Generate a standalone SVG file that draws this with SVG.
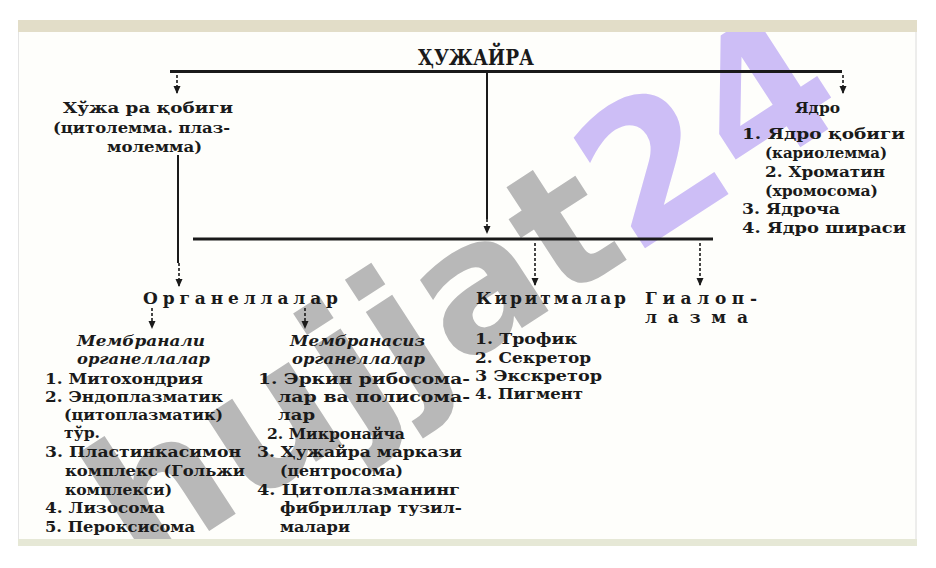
<svg xmlns="http://www.w3.org/2000/svg" width="936" height="568" viewBox="0 0 936 568">
<style>
.t{font-family:"DejaVu Serif","Liberation Serif",serif;font-weight:bold;font-size:15px;fill:#1a1a1a}
.i{font-style:italic}
.h{font-size:17px}
.ln{stroke:#1a1a1a;fill:none}
.ar{stroke:#1a1a1a;stroke-width:1.6;stroke-dasharray:3 2;fill:none}
.wm{font-family:"DejaVu Sans","Liberation Sans",sans-serif;font-weight:bold;font-size:180px}
</style>
<defs>
<marker id="ah" viewBox="0 0 8 8" refX="7" refY="4" markerWidth="8" markerHeight="8" markerUnits="userSpaceOnUse" orient="auto">
<path d="M0,0.5 L8,4 L0,7.5 z" fill="#1a1a1a"/>
</marker>
</defs>
<rect width="936" height="568" fill="#ffffff"/>
<g id="page">
<rect x="18" y="20" width="899" height="526" fill="#fefefb"/>
<line x1="18.5" y1="32" x2="18.5" y2="540" stroke="#e4e4e4"/>
<line x1="916" y1="32" x2="916" y2="540" stroke="#dcdcdc"/>
</g>
<g id="watermark">
<text class="wm" transform="translate(140,576) rotate(-33)"><tspan fill="#b8b8b8">hujjat</tspan><tspan fill="#cdbef6" style="font-size:188px">24</tspan></text>
</g>
<g id="bands">
<rect x="18" y="20" width="899" height="12" fill="#e2ddc8"/>
<rect x="18" y="539" width="899" height="7" fill="#e6e8d6"/>
<rect x="0" y="0" width="936" height="20" fill="#ffffff"/>
<rect x="0" y="546" width="936" height="22" fill="#ffffff"/>
<rect x="917" y="0" width="19" height="568" fill="#ffffff"/>
</g>
<g id="connectors">
<path class="ln" stroke-width="3" d="M170 71.5 H842"/>
<path class="ln" stroke-width="2" d="M487 71 V219"/>
<path class="ar" d="M487 219 V233" marker-end="url(#ah)"/>
<path class="ar" d="M177 75 V93" marker-end="url(#ah)"/>
<path class="ar" d="M843 75 V93" marker-end="url(#ah)"/>
<path class="ln" stroke-width="2" d="M178 155 V263"/>
<path class="ar" d="M179 263 V286" marker-end="url(#ah)"/>
<path class="ln" stroke-width="3" d="M193 239 H713"/>
<path class="ar" d="M535 243 V285" marker-end="url(#ah)"/>
<path class="ar" d="M700 243 V285" marker-end="url(#ah)"/>
<path class="ar" d="M152 308 V328" marker-end="url(#ah)"/>
<path class="ar" d="M305 308 V328" marker-end="url(#ah)"/>
</g>
<g id="n-hujayra">
<text class="t" x="418" y="65" textLength="116" lengthAdjust="spacingAndGlyphs" style="font-size:22px">ҲУЖАЙРА</text>
</g>
<g id="n-qobiq">
<text class="t" x="63" y="113" textLength="170" lengthAdjust="spacingAndGlyphs">Хўжа  ра қобиги</text>
<text class="t" x="53" y="133" textLength="177" lengthAdjust="spacingAndGlyphs">(цитолемма. плаз-</text>
<text class="t" x="107" y="152" textLength="95" lengthAdjust="spacingAndGlyphs">молемма)</text>
</g>
<g id="n-yadro">
<text class="t" x="795" y="113" textLength="45" lengthAdjust="spacingAndGlyphs">Ядро</text>
<text class="t" x="742" y="139" textLength="163" lengthAdjust="spacingAndGlyphs">1. Ядро  қобиги</text>
<text class="t" x="765" y="158" textLength="122" lengthAdjust="spacingAndGlyphs">(кариолемма)</text>
<text class="t" x="765" y="177" textLength="120" lengthAdjust="spacingAndGlyphs">2. Хроматин</text>
<text class="t" x="765" y="196" textLength="113" lengthAdjust="spacingAndGlyphs">(хромосома)</text>
<text class="t" x="742" y="214" textLength="98" lengthAdjust="spacingAndGlyphs">3. Ядроча</text>
<text class="t" x="742" y="233" textLength="164" lengthAdjust="spacingAndGlyphs">4. Ядро  шираси</text>
</g>
<g id="n-organellalar">
<text class="t h" x="143" y="304" textLength="195" lengthAdjust="spacing">Органеллалар</text>
</g>
<g id="n-kiritmalar">
<text class="t h" x="476" y="304" textLength="150" lengthAdjust="spacing">Киритмалар</text>
<text class="t" x="475" y="344" textLength="102" lengthAdjust="spacingAndGlyphs">1. Трофик</text>
<text class="t" x="475" y="363" textLength="116" lengthAdjust="spacingAndGlyphs">2. Секретор</text>
<text class="t" x="475" y="381" textLength="127" lengthAdjust="spacingAndGlyphs">3 Экскретор</text>
<text class="t" x="475" y="399" textLength="108" lengthAdjust="spacingAndGlyphs">4. Пигмент</text>
</g>
<g id="n-gialoplazma">
<text class="t h" x="645" y="304" textLength="112" lengthAdjust="spacing">Гиалоп-</text>
<text class="t h" x="645" y="323" textLength="103" lengthAdjust="spacing">лазма</text>
</g>
<g id="n-membranali">
<text class="t i" x="77" y="346" textLength="128" lengthAdjust="spacingAndGlyphs">Мембранали</text>
<text class="t i" x="77" y="364" textLength="133" lengthAdjust="spacingAndGlyphs">органеллалар</text>
<text class="t" x="45" y="384" textLength="158" lengthAdjust="spacingAndGlyphs">1.  Митохондрия</text>
<text class="t" x="45" y="402" textLength="178" lengthAdjust="spacingAndGlyphs">2. Эндоплазматик</text>
<text class="t" x="64" y="420" textLength="159" lengthAdjust="spacingAndGlyphs">(цитоплазматик)</text>
<text class="t" x="64" y="438" textLength="36" lengthAdjust="spacingAndGlyphs">тўр.</text>
<text class="t" x="45" y="457" textLength="196" lengthAdjust="spacingAndGlyphs">3. Пластинкасимон</text>
<text class="t" x="65" y="476" textLength="180" lengthAdjust="spacingAndGlyphs">комплекс (Гольжи</text>
<text class="t" x="65" y="495" textLength="107" lengthAdjust="spacingAndGlyphs">комплекси)</text>
<text class="t" x="45" y="513" textLength="120" lengthAdjust="spacingAndGlyphs">4. Лизосома</text>
<text class="t" x="45" y="532" textLength="150" lengthAdjust="spacingAndGlyphs">5. Пероксисома</text>
</g>
<g id="n-membranasiz">
<text class="t i" x="290" y="346" textLength="135" lengthAdjust="spacingAndGlyphs">Мембранасиз</text>
<text class="t i" x="292" y="364" textLength="133" lengthAdjust="spacingAndGlyphs">органеллалар</text>
<text class="t" x="258" y="384" textLength="212" lengthAdjust="spacingAndGlyphs">1. Эркин  рибосома-</text>
<text class="t" x="278" y="402" textLength="192" lengthAdjust="spacingAndGlyphs">лар  ва  полисома-</text>
<text class="t" x="278" y="420" textLength="37" lengthAdjust="spacingAndGlyphs">лар</text>
<text class="t" x="267" y="439" textLength="138" lengthAdjust="spacingAndGlyphs">2. Микронайча</text>
<text class="t" x="257" y="457" textLength="205" lengthAdjust="spacingAndGlyphs">3. Ҳужайра маркази</text>
<text class="t" x="280" y="476" textLength="123" lengthAdjust="spacingAndGlyphs">(центросома)</text>
<text class="t" x="257" y="495" textLength="203" lengthAdjust="spacingAndGlyphs">4. Цитоплазманинг</text>
<text class="t" x="280" y="513" textLength="182" lengthAdjust="spacingAndGlyphs">фибриллар тузил-</text>
<text class="t" x="280" y="532" textLength="70" lengthAdjust="spacingAndGlyphs">малари</text>
</g>
</svg>
